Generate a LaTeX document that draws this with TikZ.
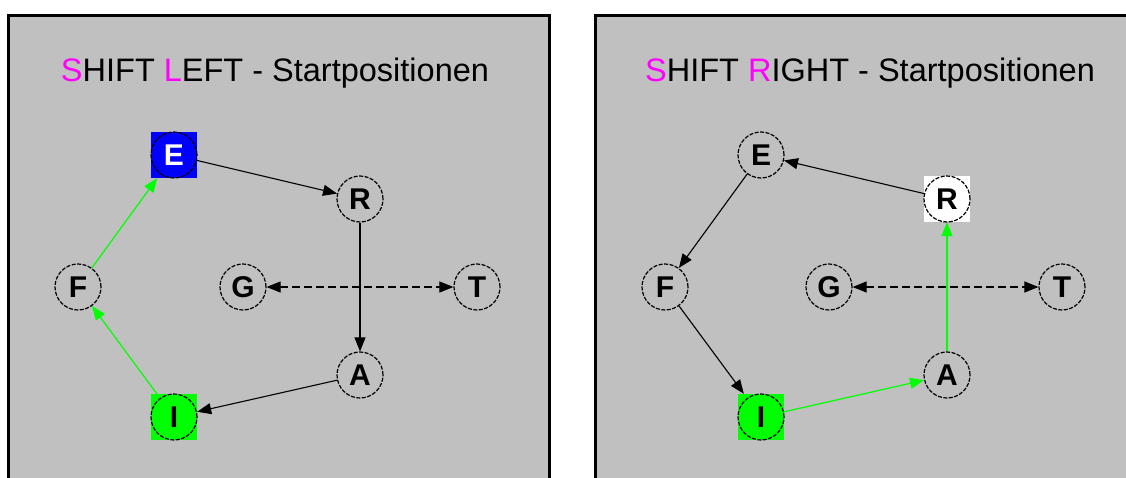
\documentclass[tikz,border=0pt]{standalone}
\usepackage{fontspec}
\setmainfont{Liberation Sans}
\usetikzlibrary{arrows.meta}
\definecolor{panelgray}{HTML}{C0C0C0}
\definecolor{hlgreen}{HTML}{00FF00}
\definecolor{hlblue}{HTML}{0000FF}
\definecolor{mag}{HTML}{FF00FF}
\pgfdeclarelayer{back}
\pgfdeclarelayer{edges}
\pgfsetlayers{back,edges,main}
\begin{document}
\begin{tikzpicture}[x=1pt,y=-1pt,
  panel/.style={fill=panelgray,draw=black,line width=3pt},
  vtx/.style={circle,draw=black,dash pattern=on 4pt off 1.5pt,line width=1.2pt,minimum size=46pt,inner sep=0pt,font=\fontsize{30}{30}\selectfont\bfseries},
  hl/.style={rectangle,minimum size=46pt,inner sep=0pt,fill=#1},
  link/.style={line width=1.1pt,-{Triangle[length=14pt,width=11pt]}},
  glink/.style={line width=1.2pt,draw=hlgreen,-{Triangle[length=14pt,width=11pt,fill=hlgreen]}},
  swap/.style={dash pattern=on 8pt off 4pt,line width=1.1pt,{Triangle[length=14pt,width=11pt]}-{Triangle[length=14pt,width=11pt]}},
  title/.style={anchor=base,font=\fontsize{32.5}{32.5}\selectfont}]
\useasboundingbox (0,0) rectangle (1126,477);
\begin{pgfonlayer}{back}
  \fill[white] (0,0) rectangle (1126,477);
  \draw[panel] (8,15) rectangle (549,500);
  \draw[panel] (595,15) rectangle (1140,500);
\end{pgfonlayer}
% ---------- left panel ----------
\node[title] (tl) at (275,81) {{\color{mag}S}HIFT {\color{mag}L}EFT - Startpositionen};
\node[hl=hlblue] (lEsq) at (174,155) {};
\node[vtx,fill=hlblue,text=white] (lE) at (174,155) {E};
\node[vtx] (lR) at (360,199) {R};
\node[vtx] (lF) at (78,287) {F};
\node[vtx] (lG) at (243,287) {G};
\node[vtx] (lT) at (477,287) {T};
\node[vtx] (lA) at (360,375) {A};
\node[hl=hlgreen] (lIsq) at (174,417) {};
\node[vtx,fill=hlgreen] (lI) at (174,417) {I};
\begin{pgfonlayer}{edges}
  \draw[link] (lE) -- (lR);
  \draw[link] (lR) -- (lA);
  \draw[link] (lA) -- (lIsq);
  \draw[glink] (lI) -- (lF);
  \draw[glink] (lF) -- (lEsq);
  \draw[swap] (lG) -- (lT);
\end{pgfonlayer}
% ---------- right panel ----------
\node[title] (tr) at (870,81) {{\color{mag}S}HIFT {\color{mag}R}IGHT - Startpositionen};
\node[vtx] (rE) at (761,155) {E};
\node[hl=white] (rRsq) at (947,199) {};
\node[vtx,fill=white] (rR) at (947,199) {R};
\node[vtx] (rF) at (665,287) {F};
\node[vtx] (rG) at (829,287) {G};
\node[vtx] (rT) at (1062,287) {T};
\node[vtx] (rA) at (947,375) {A};
\node[hl=hlgreen] (rIsq) at (761,417) {};
\node[vtx,fill=hlgreen] (rI) at (761,417) {I};
\begin{pgfonlayer}{edges}
  \draw[link] (rR) -- (rE);
  \draw[link] (rE) -- (rF);
  \draw[link] (rF) -- (rIsq);
  \draw[glink] (rI) -- (rA);
  \draw[glink] (rA) -- (rRsq);
  \draw[swap] (rG) -- (rT);
\end{pgfonlayer}
\end{tikzpicture}
\end{document}
